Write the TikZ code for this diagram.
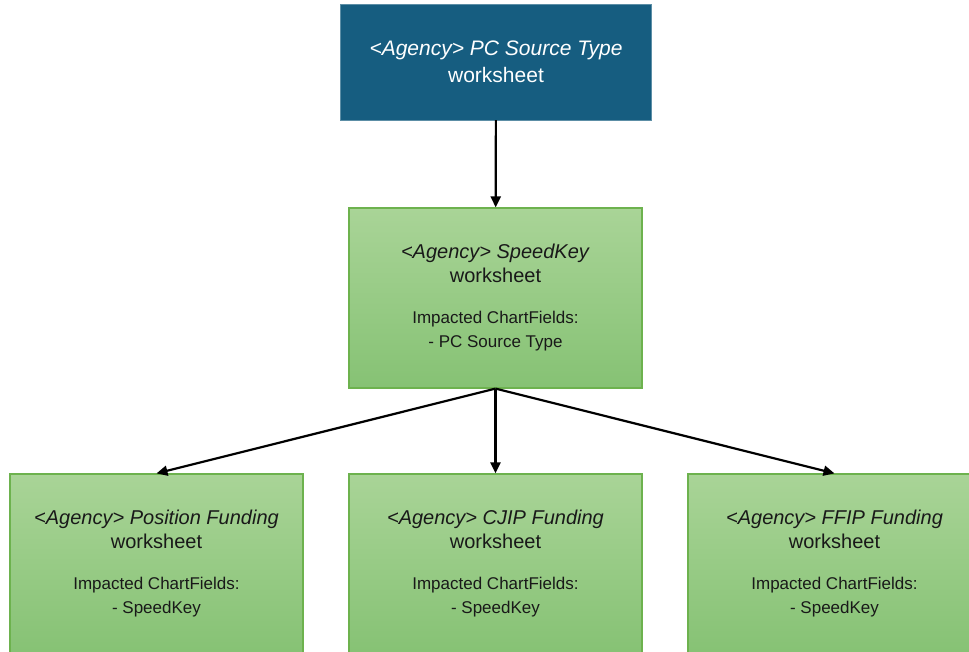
\documentclass[tikz,border=0pt]{standalone}
\usepackage{fontspec}
\setmainfont{Liberation Sans}
\usepackage{xcolor}
\usepackage{tikz}
\usetikzlibrary{arrows.meta}
\definecolor{deepblue}{HTML}{165D80}
\definecolor{leaftop}{HTML}{A9D497}
\definecolor{leafbot}{HTML}{86C274}
\definecolor{leafline}{HTML}{6DB24E}
\newcommand{\notesize}{\fontsize{17}{20}\selectfont}

\begin{document}
\begin{tikzpicture}[x=1pt,y=-1pt,
		sheet/.style={shape=rectangle,draw=leafline,line width=1.2pt,top color=leaftop,bottom color=leafbot,minimum width=293pt,minimum height=180pt,align=center,text=black!90,inner sep=0pt,font=\fontsize{20}{24}\selectfont},
		link/.style={-{Triangle[length=11pt,width=10pt]},line width=2.2pt,black}]
			\useasboundingbox (0,0) rectangle (969,652);
			\clip (0,0) rectangle (969,652);
			\node[shape=rectangle,fill=deepblue,draw=deepblue!70!white,minimum width=311pt,minimum height=116pt,align=center,text=white,inner sep=0pt,font=\fontsize{21}{27}\selectfont] (pcsource) at (496,62) {\textit{<Agency> PC Source Type}\\worksheet};
			\node[sheet] (speedkey) at (495.5,298) {\textit{<Agency> SpeedKey}\\worksheet\\[17pt]\notesize Impacted ChartFields:\\\notesize - PC Source Type};
			\node[sheet] (position) at (156.5,564) {\textit{<Agency> Position Funding}\\worksheet\\[17pt]\notesize Impacted ChartFields:\\\notesize - SpeedKey};
			\node[sheet] (cjip) at (495.5,564) {\textit{<Agency> CJIP Funding}\\worksheet\\[17pt]\notesize Impacted ChartFields:\\\notesize - SpeedKey};
			\node[sheet] (ffip) at (834.5,564) {\textit{<Agency> FFIP Funding}\\worksheet\\[17pt]\notesize Impacted ChartFields:\\\notesize - SpeedKey};

			%% lines
			\draw[link] (pcsource) -- (speedkey);
			\draw[link] (speedkey.south) -- (position.north);
			\draw[link] (speedkey.south) -- (cjip.north);
			\draw[link] (speedkey.south) -- (ffip.north);
		\end{tikzpicture}
\end{document}
